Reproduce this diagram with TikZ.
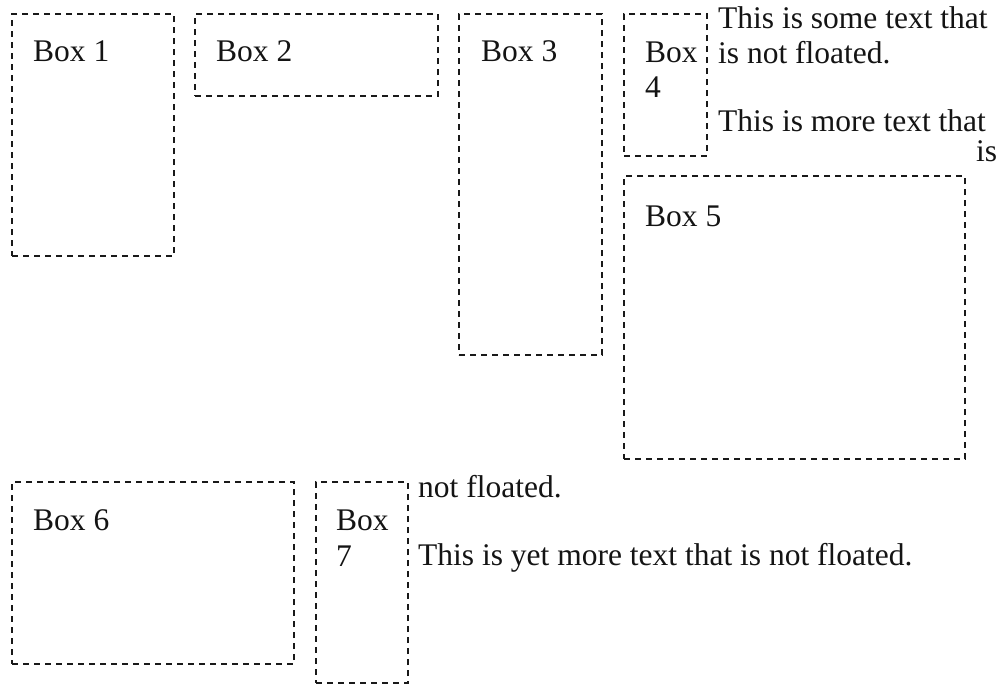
\documentclass[tikz,border=0pt]{standalone}
\usepackage{fontspec}
\setmainfont{Liberation Serif}
\begin{document}
\begin{tikzpicture}[x=1pt,y=-1pt,
  fbox/.style={draw=black!90, line width=2.4pt, dash pattern=on 6pt off 5pt, inner sep=0pt, anchor=north west, fill=none},
  txt/.style={anchor=base west, inner sep=0pt, text=black!92, font=\fontsize{31.5}{35}\selectfont}]
\useasboundingbox[fill=white] (0,0) rectangle (998,684);
% boxes
\node[fbox, minimum width=162pt, minimum height=242pt] (b1) at (11,13) {};
\node[fbox, minimum width=243pt, minimum height=82pt] (b2) at (194,13) {};
\node[fbox, minimum width=143pt, minimum height=341pt] (b3) at (458,13) {};
\node[fbox, minimum width=83pt, minimum height=142pt] (b4) at (623,13) {};
\node[fbox, minimum width=341pt, minimum height=283pt] (b5) at (623,175) {};
\node[fbox, minimum width=282pt, minimum height=182pt] (b6) at (11,481) {};
\node[fbox, minimum width=92pt, minimum height=201pt] (b7) at (315,481) {};
% box labels
\node[txt] (t1) at (33,62) {Box 1};
\node[txt] (t2) at (216,62) {Box 2};
\node[txt] (t3) at (481,62) {Box 3};
\node[txt] (t4a) at (645,63) {Box};
\node[txt] (t4b) at (645,98) {4};
\node[txt] (t5) at (645,227) {Box 5};
\node[txt] (t6) at (33,530) {Box 6};
\node[txt] (t7a) at (336,530) {Box};
\node[txt] (t7b) at (336,566) {7};
% flowing text
\node[txt] (p1) at (718,29) {This is some text that};
\node[txt] (p2) at (718,64) {is not floated.};
\node[txt] (p3) at (718,132) {This is more text that};
\node[txt] (p4) at (976,162) {is};
\node[txt] (p5) at (418,497) {not floated.};
\node[txt] (p6) at (418,565) {This is yet more text that is not floated.};
\end{tikzpicture}
\end{document}
